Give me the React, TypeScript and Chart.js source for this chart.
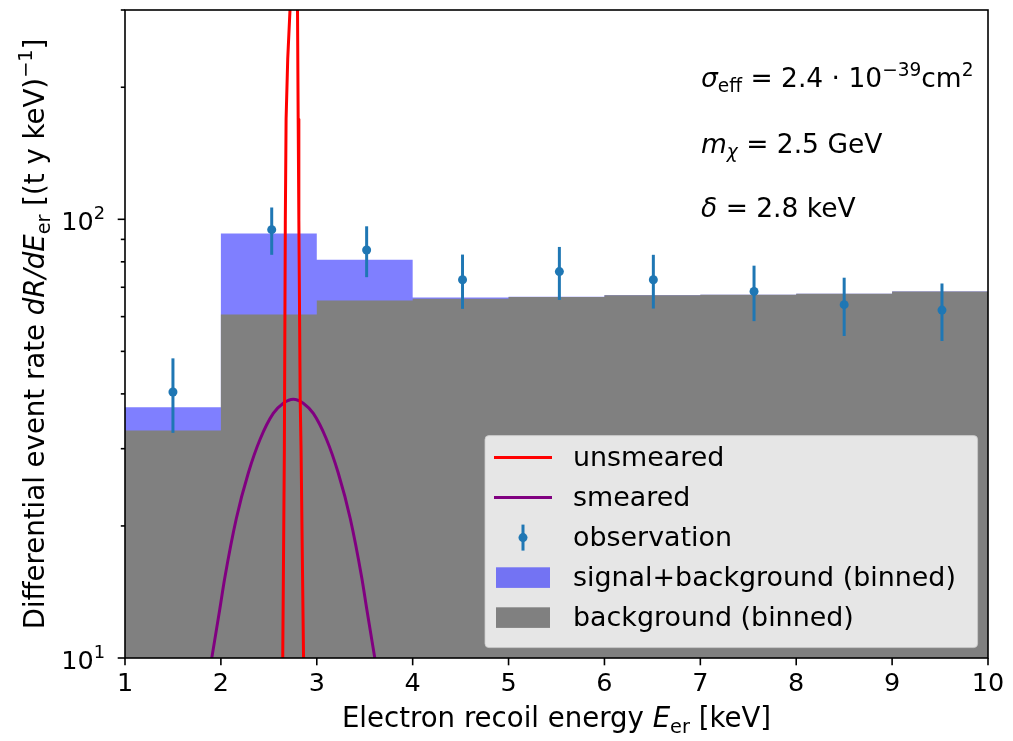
import React, { useEffect, useRef } from 'react';
import { Chart, registerables } from 'chart.js';

Chart.register(...registerables);

// ---------- data ----------
const binEdges = [1, 2, 3, 4, 5, 6, 7, 8, 9, 10];
const backgroundBinned = [33.0, 60.7, 65.3, 65.9, 66.5, 67.1, 67.3, 67.7, 68.5];
const signalPlusBackgroundBinned = [37.3, 92.8, 80.9, 66.3, 66.6, 67.1, 67.3, 67.7, 68.5];

const obsEnergy = [1.5, 2.53, 3.52, 4.52, 5.53, 6.51, 7.56, 8.5, 9.52];
const obsRate = [40.4, 94.7, 85.1, 72.8, 76.0, 72.8, 68.5, 63.9, 62.1];
const obsError = [7.8, 11.7, 11.3, 10.3, 10.5, 10.2, 9.9, 9.7, 9.3];

const unsmearedEnergy = [2.645, 2.662, 2.672, 2.68, 2.697, 2.721, 2.76, 2.799, 2.806, 2.813, 2.827, 2.836, 2.862];
const unsmearedRate = [10, 29.9, 100, 169, 232, 301, 2000, 301, 169, 100, 38.8, 29.9, 10];

const smearedEnergy = [1.905, 1.988, 2.04, 2.161, 2.286, 2.411, 2.546, 2.651, 2.755, 2.859, 2.964, 3.099, 3.224, 3.349, 3.47, 3.522, 3.605];
const smearedRate = [10.0, 12.9, 15.2, 20.8, 26.4, 31.6, 36.1, 38.1, 38.9, 38.1, 36.1, 31.6, 26.4, 20.8, 15.2, 12.9, 10.0];

const xTicks = [1, 2, 3, 4, 5, 6, 7, 8, 9, 10];
const yMajorTicks = [10, 100];
const yMajorExp = ['1', '2'];
const yMinorTicks = [20, 30, 40, 50, 60, 70, 80, 90, 200, 300];

const legendLabels = ['unsmeared', 'smeared', 'observation', 'signal+background (binned)', 'background (binned)'];

// ---------- styles ----------
const FONT = '"DejaVu Sans", "Liberation Sans", sans-serif';
const LABEL_FS = 27.6;
const TICK_FS = 25.5;
const ANN_FS = 26.5;
const LEG_FS = 26.9;
const RED = '#ff0000';
const PURPLE = '#800080';
const OBS = '#1f77b4';
const BLUE = 'rgba(0,0,255,0.5)';
const GRAY = '#808080';

type Part = { t: string; i?: boolean; sub?: boolean; sup?: boolean };

function fontFor(p: Part, fs: number) {
  const size = p.sub || p.sup ? fs * 0.7 : fs;
  return `${p.i ? 'italic ' : ''}${size}px ${FONT}`;
}

function drawRich(ctx: CanvasRenderingContext2D, parts: Part[], x: number, y: number, align: 'left' | 'center' | 'right', fs: number) {
  let w = 0;
  for (const p of parts) {
    ctx.font = fontFor(p, fs);
    w += ctx.measureText(p.t).width;
  }
  let cx = align === 'left' ? x : align === 'center' ? x - w / 2 : x - w;
  ctx.textAlign = 'left';
  ctx.textBaseline = 'alphabetic';
  for (const p of parts) {
    ctx.font = fontFor(p, fs);
    const dy = p.sub ? fs * 0.2 : p.sup ? -fs * 0.42 : 0;
    ctx.fillText(p.t, cx, y + dy);
    cx += ctx.measureText(p.t).width;
  }
}

function stepData(values: number[]) {
  return binEdges.map((e, i) => ({ x: e, y: values[Math.min(i, values.length - 1)] }));
}

const decorPlugin = {
  id: 'mplDecor',
  afterDatasetsDraw(chart: any) {
    const { ctx } = chart;
    const xs = chart.scales.x;
    const ys = chart.scales.y;
    ctx.save();
    ctx.strokeStyle = OBS;
    ctx.lineWidth = 3;
    for (let i = 0; i < obsEnergy.length; i++) {
      const px = xs.getPixelForValue(obsEnergy[i]);
      ctx.beginPath();
      ctx.moveTo(px, ys.getPixelForValue(obsRate[i] + obsError[i]));
      ctx.lineTo(px, ys.getPixelForValue(obsRate[i] - obsError[i]));
      ctx.stroke();
    }
    ctx.restore();
  },
  afterDraw(chart: any) {
    const { ctx, chartArea: a } = chart;
    const xs = chart.scales.x;
    const ys = chart.scales.y;
    ctx.save();
    ctx.fillStyle = '#000';
    ctx.strokeStyle = '#000';
    ctx.lineWidth = 1.6;
    // spines
    ctx.strokeRect(a.left, a.top, a.right - a.left, a.bottom - a.top);
    // x ticks
    for (const t of xTicks) {
      const px = xs.getPixelForValue(t);
      ctx.beginPath();
      ctx.moveTo(px, a.bottom);
      ctx.lineTo(px, a.bottom + 7.3);
      ctx.stroke();
      ctx.font = `${TICK_FS}px ${FONT}`;
      ctx.textAlign = 'center';
      ctx.textBaseline = 'alphabetic';
      ctx.fillText(String(t), px, a.bottom + 33);
    }
    // y ticks
    yMajorTicks.forEach((t, i) => {
      const py = ys.getPixelForValue(t);
      ctx.beginPath();
      ctx.moveTo(a.left, py);
      ctx.lineTo(a.left - 7.3, py);
      ctx.stroke();
      drawRich(ctx, [{ t: '10' }, { t: yMajorExp[i], sup: true }], a.left - 20, py + 10.5, 'right', TICK_FS);
    });
    for (const t of yMinorTicks) {
      if (t > ys.max) continue;
      const py = ys.getPixelForValue(t);
      ctx.beginPath();
      ctx.moveTo(a.left, py);
      ctx.lineTo(a.left - 4.2, py);
      ctx.stroke();
    }
    // axis titles
    drawRich(
      ctx,
      [{ t: 'Electron recoil energy ' }, { t: 'E', i: true }, { t: 'er', sub: true }, { t: ' [keV]' }],
      (a.left + a.right) / 2,
      727,
      'center',
      LABEL_FS
    );
    ctx.save();
    ctx.translate(44, (a.top + a.bottom) / 2);
    ctx.rotate(-Math.PI / 2);
    drawRich(
      ctx,
      [
        { t: 'Differential event rate ' },
        { t: 'dR/dE', i: true },
        { t: 'er', sub: true },
        { t: ' [(t y keV)' },
        { t: '\u22121', sup: true },
        { t: ']' },
      ],
      0,
      0,
      'center',
      LABEL_FS
    );
    ctx.restore();
    // annotations
    drawRich(
      ctx,
      [
        { t: '\u03c3', i: true },
        { t: 'eff', sub: true },
        { t: ' = 2.4 \u00b7 10' },
        { t: '\u221239', sup: true },
        { t: 'cm' },
        { t: '2', sup: true },
      ],
      701,
      87,
      'left',
      ANN_FS
    );
    drawRich(ctx, [{ t: 'm', i: true }, { t: '\u03c7', i: true, sub: true }, { t: ' = 2.5 GeV' }], 701, 153, 'left', ANN_FS);
    drawRich(ctx, [{ t: '\u03b4', i: true }, { t: ' = 2.8 keV' }], 701, 217, 'left', ANN_FS);

    // legend
    const lr = a.right - 10.4;
    const lb = a.bottom - 10.4;
    const lt = lb - 212;
    const ll = 485;
    ctx.beginPath();
    (ctx as any).roundRect(ll, lt, lr - ll, lb - lt, 4);
    ctx.fillStyle = 'rgba(255,255,255,0.8)';
    ctx.fill();
    ctx.strokeStyle = 'rgba(204,204,204,0.8)';
    ctx.lineWidth = 1;
    ctx.stroke();
    const hx0 = ll + 9;
    const hx1 = ll + 67;
    const tx = ll + 88;
    legendLabels.forEach((lab, i) => {
      const base = lb - 21.5 - (legendLabels.length - 1 - i) * 40;
      const cy = base - 8.5;
      if (i === 0 || i === 1) {
        ctx.strokeStyle = i === 0 ? RED : PURPLE;
        ctx.lineWidth = 3;
        ctx.beginPath();
        ctx.moveTo(hx0, cy);
        ctx.lineTo(hx1, cy);
        ctx.stroke();
      } else if (i === 2) {
        const mx = (hx0 + hx1) / 2;
        ctx.strokeStyle = OBS;
        ctx.lineWidth = 3;
        ctx.beginPath();
        ctx.moveTo(mx, cy - 13);
        ctx.lineTo(mx, cy + 13);
        ctx.stroke();
        ctx.fillStyle = OBS;
        ctx.beginPath();
        ctx.arc(mx, cy, 4.5, 0, Math.PI * 2);
        ctx.fill();
      } else {
        ctx.fillStyle = i === 3 ? BLUE : GRAY;
        ctx.fillRect(hx0 + 2, cy - 10.3, hx1 - hx0 - 4, 20.6);
      }
      ctx.fillStyle = '#000';
      ctx.font = `${LEG_FS}px ${FONT}`;
      ctx.textAlign = 'left';
      ctx.textBaseline = 'alphabetic';
      ctx.fillText(lab, tx, base);
    });
    ctx.restore();
  },
};

export default function App() {
  const ref = useRef<HTMLCanvasElement | null>(null);
  useEffect(() => {
    if (!ref.current) return;
    const chart = new Chart(ref.current, {
      type: 'line',
      data: {
        datasets: [
          {
            label: 'signal+background (binned)',
            data: stepData(signalPlusBackgroundBinned),
            stepped: 'before',
            fill: 'start',
            backgroundColor: BLUE,
            borderColor: 'rgba(0,0,0,0)',
            borderWidth: 0,
            pointRadius: 0,
            order: 5,
            clip: 0,
          } as any,
          {
            label: 'background (binned)',
            data: stepData(backgroundBinned),
            stepped: 'before',
            fill: 'start',
            backgroundColor: GRAY,
            borderColor: 'rgba(0,0,0,0)',
            borderWidth: 0,
            pointRadius: 0,
            order: 4,
            clip: 0,
          } as any,
          {
            label: 'smeared',
            data: smearedEnergy.map((e, i) => ({ x: e, y: smearedRate[i] })),
            borderColor: PURPLE,
            borderWidth: 3,
            borderJoinStyle: 'round',
            pointRadius: 0,
            cubicInterpolationMode: 'monotone',
            fill: false,
            order: 3,
            clip: 0,
          } as any,
          {
            label: 'unsmeared',
            data: unsmearedEnergy.map((e, i) => ({ x: e, y: unsmearedRate[i] })),
            borderColor: RED,
            borderWidth: 3,
            borderJoinStyle: 'round',
            pointRadius: 0,
            tension: 0,
            fill: false,
            order: 2,
            clip: 0,
          } as any,
          {
            label: 'observation',
            data: obsEnergy.map((e, i) => ({ x: e, y: obsRate[i] })),
            showLine: false,
            pointRadius: 4.5,
            pointBackgroundColor: OBS,
            pointBorderWidth: 0,
            backgroundColor: OBS,
            borderColor: OBS,
            order: 1,
            clip: 0,
          } as any,
        ],
      },
      options: {
        responsive: false,
        animation: false,
        devicePixelRatio: 1,
        events: [],
        layout: { padding: { left: 125, right: 25, top: 10, bottom: 83 } },
        scales: {
          x: { type: 'linear', min: 1, max: 10, display: false },
          y: { type: 'logarithmic', min: 10, max: 300, display: false },
        },
        plugins: { legend: { display: false }, tooltip: { enabled: false } },
      },
      plugins: [decorPlugin],
    } as any);
    return () => chart.destroy();
  }, []);
  return (
    <div style={{ position: 'fixed', left: 0, top: 0, width: 1013, height: 741, background: '#fff' }}>
      <canvas ref={ref} width={1013} height={741} style={{ display: 'block' }} />
    </div>
  );
}
